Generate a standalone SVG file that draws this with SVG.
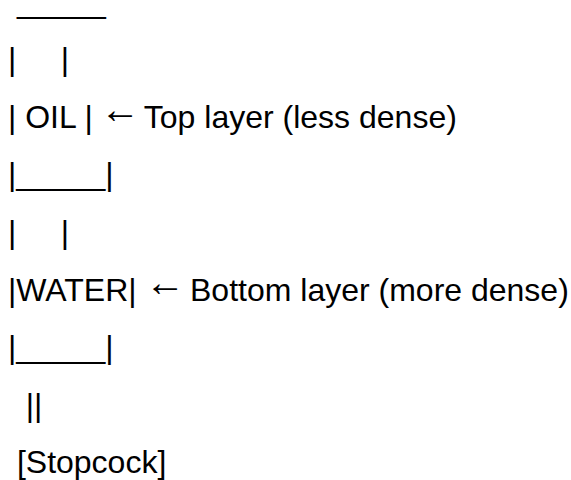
<svg xmlns="http://www.w3.org/2000/svg" width="571" height="480" viewBox="0 0 571 480">
<style>
text{font-family:"Liberation Sans",Arial,Helvetica,sans-serif;font-size:32px;fill:#000;white-space:pre}
.arr{font-size:40px}
</style>
<rect width="571" height="480" fill="#fff"/>
<g id="funnel">
<text x="8" y="12.5"> _____</text>
<text x="8" y="70.1">|     |</text>
<text x="8" y="127.7">| OIL | <tspan class="arr" x="100" dy="-5">←</tspan><tspan x="143.8" dy="5">Top layer (less dense)</tspan></text>
<text x="8" y="185.3">|_____|</text>
<text x="8" y="242.9">|     |</text>
<text x="8" y="300.5">|WATER| <tspan class="arr" x="145" dy="-5">←</tspan><tspan x="190" dy="5">Bottom layer (more dense)</tspan></text>
<text x="8" y="358.1">|_____|</text>
<text x="8" y="415.7">  ||</text>
<text x="8" y="473.3"> [Stopcock]</text>
</g>
</svg>
